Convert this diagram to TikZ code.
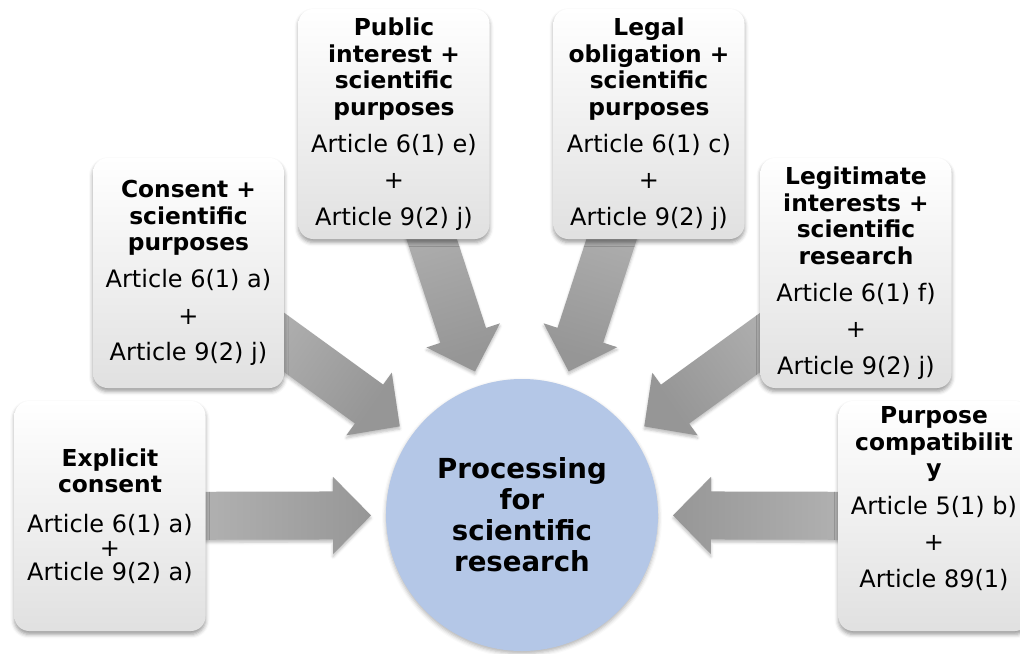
\documentclass[tikz,border=0pt]{standalone}
\usepackage{fontspec}
\setmainfont{DejaVu Sans}
\usepackage{tikz}
\usetikzlibrary{calc, backgrounds, shadows.blur}
\definecolor{hubblue}{RGB}{180,199,231}
\newcommand{\hd}[1]{{\fontsize{17.5}{19.9}\bfseries #1}}
% wide arrow from the centre of #1 towards #2, shading turned by #3
\newcommand{\blockarrow}[3]{%
  \coordinate (#1-tip) at ($(#2.center)!113.25pt!(#1.center)$);
  \coordinate (#1-base) at ($(#1-tip)!28.5pt!(#1.center)$);
  \path [pointer, shading angle = #3]
    ($(#1.center)!18pt!90:(#1-tip)$) -- ($(#1-base)!18pt!90:(#1-tip)$)
    -- ($(#1-base)!29pt!90:(#1-tip)$) -- (#1-tip)
    -- ($(#1-base)!29pt!-90:(#1-tip)$) -- ($(#1-base)!18pt!-90:(#1-tip)$)
    -- ($(#1.center)!18pt!-90:(#1-tip)$) -- cycle;
}

\begin{document}
\begin{tikzpicture}[x = 0.75pt, y = -0.75pt,
  box/.style = {rounded corners = 11pt, minimum width = 143.25pt, minimum height = 172.5pt,
    inner sep = 0pt, align = center, font = \fontsize{18}{19.9}\selectfont,
    top color = white, bottom color = black!12,
    blur shadow = {shadow xshift = 0pt, shadow yshift = -2.5pt, shadow blur radius = 3pt, shadow opacity = 40}},
  hub/.style = {circle, fill = hubblue, minimum size = 204pt, inner sep = 0pt, align = center,
    font = \fontsize{20.7}{23.25}\bfseries,
    blur shadow = {shadow xshift = 0pt, shadow yshift = -2pt, shadow blur radius = 3pt, shadow opacity = 30}},
  pointer/.style = {top color = black!41, bottom color = black!25,
    blur shadow = {shadow xshift = 0pt, shadow yshift = -2pt, shadow blur radius = 2pt, shadow opacity = 25}}]
  \useasboundingbox (0,0) rectangle (1020,653);

  % nodes
  \node [hub] (proc) at (522,515) {Processing\\ for\\ scientific\\ research};
  \node [box] (explicit) at (110,516)
    {\hd{Explicit}\\ \hd{consent}\\[10pt] Article 6(1) a)\\[-1.9pt] +\\[-1.9pt] Article 9(2) a)};
  \node [box] (consent) at (188.5,273)
    {\hd{Consent +}\\ \hd{scientific}\\ \hd{purposes}\\[7.9pt] Article 6(1) a)\\[7.5pt] +\\[7.5pt] Article 9(2) j)};
  \node [box] (public) at (394,124)
    {\hd{Public}\\ \hd{interest +}\\ \hd{scientific}\\ \hd{purposes}\\[7.9pt] Article 6(1) e)\\[7.5pt] +\\[7.5pt] Article 9(2) j)};
  \node [box] (legal) at (649,124)
    {\hd{Legal}\\ \hd{obligation +}\\ \hd{scientific}\\ \hd{purposes}\\[7.9pt] Article 6(1) c)\\[7.5pt] +\\[7.5pt] Article 9(2) j)};
  \node [box] (legitimate) at (856,273)
    {\hd{Legitimate}\\ \hd{interests +}\\ \hd{scientific}\\ \hd{research}\\[7.9pt] Article 6(1) f)\\[7.5pt] +\\[7.5pt] Article 9(2) j)};
  \node [box, text depth = 28.5pt] (purpose) at (934,516)
    {\hd{Purpose}\\ \hd{compatibilit}\\ \hd{y}\\[7.9pt] Article 5(1) b)\\[7.5pt] +\\[7.5pt] Article 89(1)};

  % edges
  \begin{scope}[on background layer]
    \blockarrow{explicit}{proc}{-90}
    \blockarrow{consent}{proc}{-125}
    \blockarrow{public}{proc}{-163.5}
    \blockarrow{legal}{proc}{163.5}
    \blockarrow{legitimate}{proc}{125}
    \blockarrow{purpose}{proc}{90}
  \end{scope}
\end{tikzpicture}
\end{document}
